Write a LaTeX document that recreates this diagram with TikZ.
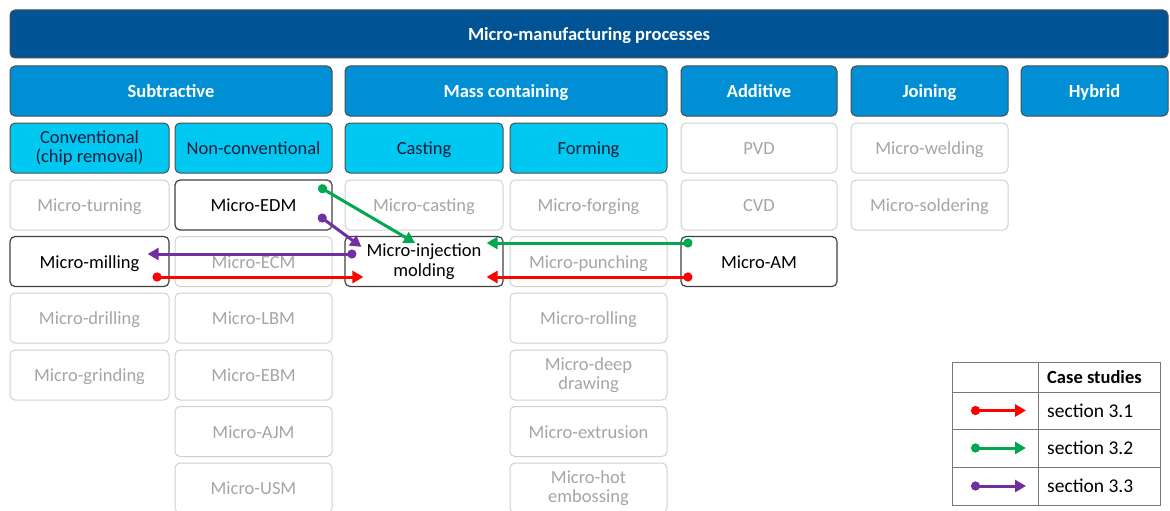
\documentclass[tikz,border=0pt]{standalone}
\usepackage{fontspec}
\setmainfont{Carlito}
\usetikzlibrary{arrows.meta,calc}
\definecolor{topblue}{RGB}{0,84,150}
\definecolor{catblue}{RGB}{0,142,212}
\definecolor{subcyan}{RGB}{0,200,240}
\definecolor{grayline}{RGB}{208,208,208}
\definecolor{graytext}{RGB}{165,165,165}
\definecolor{navytext}{RGB}{15,30,60}
\definecolor{agreen}{RGB}{0,168,80}
\definecolor{apurple}{RGB}{112,48,160}
\definecolor{ared}{RGB}{255,0,0}
\definecolor{tabline}{RGB}{120,120,120}
\begin{document}
\begin{tikzpicture}[x=1pt,y=-1pt,
  basebox/.style={rounded corners=5pt, minimum height=50pt, inner sep=2pt, align=center,
    text height=14.5pt, text depth=1.5pt,
    font=\fontsize{18.5}{19.5}\selectfont},
  twoline/.style={text height=, text depth=},
  topbox/.style={basebox, fill=topblue, draw=black!70, line width=1pt, text=white,
    font=\fontsize{18.5}{19.5}\selectfont\bfseries},
  catbox/.style={basebox, fill=catblue, draw=black!70, line width=1pt, text=white,
    font=\fontsize{18.5}{19.5}\selectfont\bfseries},
  subbox/.style={basebox, fill=subcyan, draw=black!70, line width=1pt, text=navytext},
  graybox/.style={basebox, draw=grayline, line width=1pt, text=graytext},
  hibox/.style={basebox, draw=black!75, line width=1.2pt, text=black},
  arr/.style={line width=3pt, {Circle[length=9pt]}-{Triangle[length=11pt,width=12pt]}},
  legtext/.style={anchor=west, font=\fontsize{19.5}{20}\selectfont, inner sep=0pt}
]
\useasboundingbox (0,0) rectangle (1170,511);

% top bar
\node[topbox, minimum width=1158pt, minimum height=48pt] (top) at (589,34) {Micro-manufacturing processes};

% categories
\node[catbox, minimum width=322pt] (sub) at (171,91) {Subtractive};
\node[catbox, minimum width=322pt] (mass) at (506,91) {Mass containing};
\node[catbox, minimum width=156pt] (add) at (759,91) {Additive};
\node[catbox, minimum width=157pt] (join) at (929.5,91) {Joining};
\node[catbox, minimum width=147pt] (hyb) at (1094.5,91) {Hybrid};

% sub-categories
\node[subbox, twoline, minimum width=159pt] (conv) at (89.5,148) {Conventional\\(chip removal)};
\node[subbox, minimum width=157pt] (nonconv) at (253.5,148) {Non-conventional};
\node[subbox, minimum width=158pt] (cast) at (424,148) {Casting};
\node[subbox, minimum width=157pt] (form) at (588.5,148) {Forming};
\node[graybox, minimum width=156pt] (pvd) at (759,148) {PVD};
\node[graybox, minimum width=157pt] (weld) at (929.5,148) {Micro-welding};

% row 2
\node[graybox, minimum width=159pt] (turn) at (89.5,205) {Micro-turning};
\node[hibox, minimum width=157pt] (edm) at (253.5,205) {Micro-EDM};
\node[graybox, minimum width=158pt] (mcast) at (424,205) {Micro-casting};
\node[graybox, minimum width=157pt] (forg) at (588.5,205) {Micro-forging};
\node[graybox, minimum width=156pt] (cvd) at (759,205) {CVD};
\node[graybox, minimum width=157pt] (sold) at (929.5,205) {Micro-soldering};

% row 3
\node[hibox, minimum width=159pt] (mill) at (89.5,261.5) {Micro-milling};
\node[graybox, minimum width=157pt] (ecm) at (253.5,261.5) {Micro-ECM};
\node[hibox, twoline, minimum width=158pt] (inj) at (424,261.5) {Micro-injection\\molding};
\node[graybox, minimum width=157pt] (punch) at (588.5,261.5) {Micro-punching};
\node[hibox, minimum width=156pt] (am) at (759,261.5) {Micro-AM};

% row 4
\node[graybox, minimum width=159pt] (drill) at (89.5,318) {Micro-drilling};
\node[graybox, minimum width=157pt] (lbm) at (253.5,318) {Micro-LBM};
\node[graybox, minimum width=157pt] (roll) at (588.5,318) {Micro-rolling};

% row 5
\node[graybox, minimum width=159pt] (grind) at (89.5,375) {Micro-grinding};
\node[graybox, minimum width=157pt] (ebm) at (253.5,375) {Micro-EBM};
\node[graybox, twoline, minimum width=157pt] (deep) at (588.5,375) {Micro-deep\\drawing};

% row 6
\node[graybox, minimum width=157pt] (ajm) at (253.5,431.5) {Micro-AJM};
\node[graybox, minimum width=157pt] (extr) at (588.5,431.5) {Micro-extrusion};

% row 7
\node[graybox, minimum width=157pt] (usm) at (253.5,488) {Micro-USM};
\node[graybox, twoline, minimum width=157pt] (emb) at (588.5,488) {Micro-hot\\embossing};

% arrows
\draw[arr, agreen] ($(edm.north east)+(-14,7)$) -- ($(inj.north)+(-9,7)$);
\draw[arr, apurple] ($(edm.north east)+(-14,36)$) -- ($(inj.north west)+(17,11)$);
\draw[arr, apurple] ($(inj.west)+(12,-7.5)$) -- ($(mill.east)+(-22,-7.5)$);
\draw[arr, ared] ($(mill.east)+(-17,15.5)$) -- ($(inj.west)+(19,15.5)$);
\draw[arr, agreen] ($(am.west)+(12,-18.5)$) -- ($(inj.east)+(-17,-18.5)$);
\draw[arr, ared] ($(am.west)+(12,15.5)$) -- ($(inj.east)+(-17,15.5)$);

% legend
\draw[tabline, line width=1pt] (952,362) rectangle (1160,505);
\draw[tabline, line width=1pt] (952,392) -- (1160,392) (952,429) -- (1160,429) (952,467) -- (1160,467) (1038,362) -- (1038,505);
\node[legtext, font=\fontsize{18.5}{19}\selectfont\bfseries] (lhead) at (1047,377) {Case studies};
\node[legtext] (l1) at (1047,410.5) {section 3.1};
\node[legtext] (l2) at (1047,448) {section 3.2};
\node[legtext] (l3) at (1047,486) {section 3.3};
\coordinate (a1s) at (971,410.5); \coordinate (a1e) at (1026,410.5);
\coordinate (a2s) at (971,448); \coordinate (a2e) at (1026,448);
\coordinate (a3s) at (971,486); \coordinate (a3e) at (1026,486);
\draw[arr, ared] (a1s) -- (a1e);
\draw[arr, agreen] (a2s) -- (a2e);
\draw[arr, apurple] (a3s) -- (a3e);
\end{tikzpicture}
\end{document}
